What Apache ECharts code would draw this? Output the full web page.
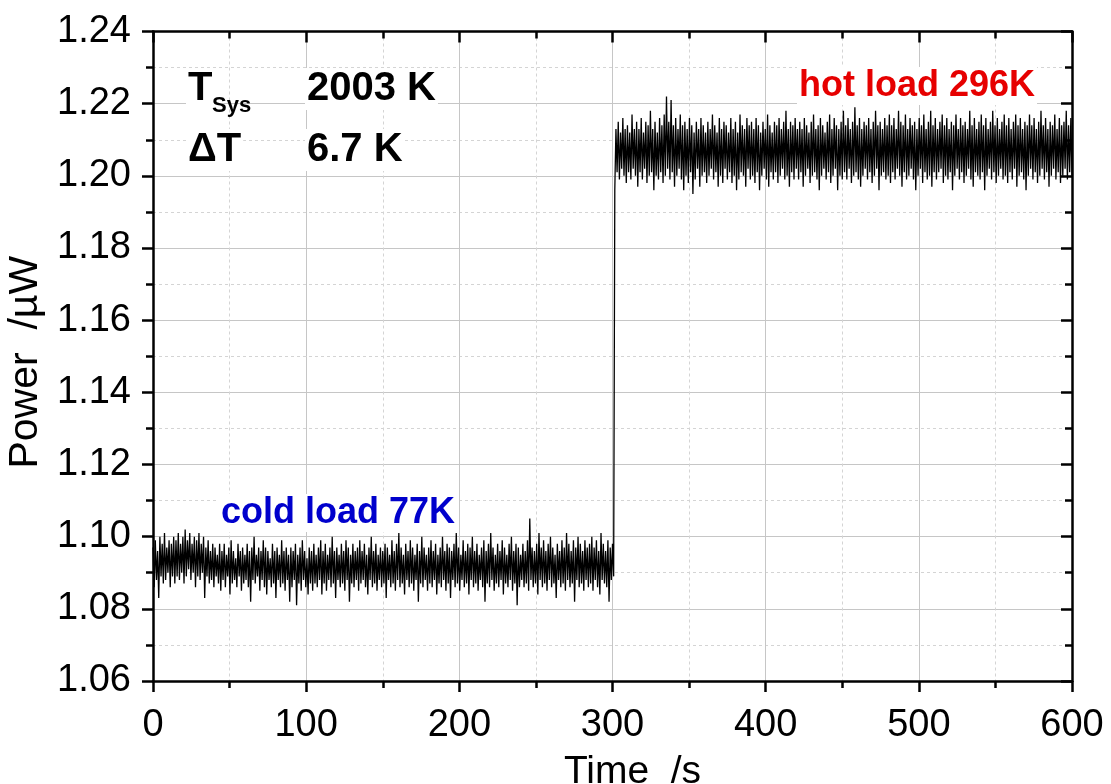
<!DOCTYPE html>
<html>
<head>
<meta charset="utf-8">
<script src="https://cdn.jsdelivr.net/npm/echarts@6/dist/echarts.min.js"></script>
<style>
  html, body { margin: 0; padding: 0; background: #fff; }
  #chart { width: 1111px; height: 784px; }
</style>
</head>
<body>
<div id="chart"></div>
<script>
// ---- axis settings / tick labels ----
const xMin = 0, xMax = 600, xInterval = 100;
const yMin = 1.06, yMax = 1.24, yInterval = 0.02;
const xTitle = 'Time  /s';
const yTitle = 'Power  /\u00b5W';

// ---- sampling grid (s) ----
const sampleStep = 0.75;
const coldStartTime = 0;
const hotStartTime = 301.5;

// ---- cold load segment: power /µW, one value per sample from t = 0 ----
const coldPower = [
1.097,1.086,1.099,1.088,1.096,1.083,1.100,1.089,1.098,1.087,1.101,1.088,1.097,1.090,1.099,1.086,1.098,1.089,1.100,1.087,
1.099,1.089,1.101,1.088,1.098,1.090,1.100,1.087,1.102,1.089,1.099,1.091,1.101,1.088,1.098,1.090,1.100,1.086,1.099,1.089,
1.101,1.088,1.098,1.090,1.100,1.083,1.097,1.089,1.099,1.087,1.096,1.088,1.098,1.086,1.097,1.089,1.095,1.087,1.098,1.085,
1.096,1.088,1.098,1.086,1.095,1.089,1.097,1.084,1.099,1.087,1.096,1.088,1.094,1.086,1.098,1.089,1.096,1.085,1.097,1.087,
1.095,1.088,1.098,1.086,1.096,1.082,1.097,1.088,1.100,1.087,1.095,1.089,1.097,1.085,1.096,1.088,1.099,1.086,1.097,1.084,
1.096,1.088,1.094,1.086,1.098,1.087,1.096,1.083,1.097,1.088,1.095,1.086,1.099,1.087,1.096,1.085,1.097,1.088,1.095,1.082,
1.097,1.086,1.096,1.088,1.098,1.081,1.095,1.087,1.097,1.085,1.099,1.088,1.096,1.086,1.094,1.084,1.097,1.087,1.096,1.085,
1.098,1.087,1.095,1.086,1.097,1.088,1.099,1.084,1.096,1.087,1.098,1.085,1.095,1.088,1.097,1.086,1.100,1.087,1.096,1.083,
1.097,1.088,1.095,1.086,1.098,1.087,1.096,1.085,1.099,1.088,1.097,1.082,1.095,1.087,1.098,1.086,1.096,1.088,1.097,1.085,
1.099,1.087,1.096,1.088,1.098,1.086,1.095,1.084,1.097,1.088,1.100,1.086,1.096,1.087,1.098,1.085,1.095,1.088,1.097,1.086,
1.096,1.087,1.098,1.083,1.097,1.088,1.095,1.086,1.099,1.087,1.096,1.085,1.098,1.088,1.101,1.086,1.097,1.087,1.095,1.084,
1.098,1.088,1.096,1.086,1.099,1.087,1.097,1.085,1.095,1.088,1.098,1.082,1.096,1.087,1.100,1.086,1.097,1.088,1.095,1.085,
1.097,1.087,1.099,1.086,1.096,1.088,1.098,1.084,1.095,1.087,1.097,1.086,1.100,1.088,1.096,1.085,1.098,1.087,1.097,1.083,
1.096,1.088,1.098,1.086,1.101,1.087,1.097,1.085,1.095,1.088,1.099,1.086,1.096,1.087,1.098,1.084,1.097,1.088,1.100,1.086,
1.096,1.087,1.098,1.085,1.095,1.088,1.097,1.086,1.099,1.082,1.096,1.087,1.098,1.086,1.101,1.088,1.097,1.085,1.095,1.087,
1.098,1.086,1.096,1.088,1.099,1.084,1.097,1.087,1.095,1.086,1.098,1.088,1.100,1.085,1.096,1.087,1.098,1.081,1.097,1.086,
1.095,1.088,1.098,1.086,1.096,1.087,1.099,1.085,1.105,1.088,1.097,1.086,1.096,1.087,1.098,1.084,1.101,1.088,1.097,1.086,
1.099,1.087,1.096,1.085,1.098,1.088,1.100,1.086,1.097,1.087,1.095,1.083,1.098,1.088,1.096,1.086,1.099,1.087,1.097,1.085,
1.101,1.088,1.098,1.086,1.096,1.087,1.099,1.082,1.097,1.088,1.100,1.086,1.098,1.087,1.096,1.085,1.099,1.088,1.097,1.086,
1.098,1.087,1.100,1.085,1.097,1.088,1.099,1.086,1.096,1.084,1.101,1.088,1.098,1.087,1.096,1.086,1.099,1.082,1.097,1.088,
1.098,1.089
];

// ---- hot load segment: power /µW, one value per sample from t = 301.5 ----
const hotPower = [
1.196,1.213,1.201,1.215,1.199,1.212,1.202,1.216,1.200,1.213,1.198,1.214,1.201,1.212,1.199,1.217,1.202,1.213,1.200,1.215,
1.197,1.213,1.201,1.216,1.199,1.212,1.202,1.215,1.198,1.214,1.200,1.218,1.201,1.213,1.196,1.215,1.200,1.212,1.199,1.216,
1.201,1.214,1.198,1.217,1.200,1.222,1.202,1.215,1.199,1.221,1.201,1.214,1.197,1.216,1.200,1.213,1.202,1.217,1.199,1.214,
1.196,1.215,1.200,1.213,1.198,1.216,1.201,1.214,1.195,1.212,1.199,1.215,1.202,1.213,1.197,1.216,1.200,1.214,1.201,1.212,
1.198,1.215,1.200,1.213,1.202,1.217,1.199,1.214,1.201,1.212,1.197,1.216,1.200,1.213,1.198,1.215,1.202,1.214,1.199,1.212,
1.201,1.216,1.198,1.213,1.200,1.215,1.196,1.212,1.199,1.217,1.201,1.214,1.200,1.213,1.197,1.216,1.202,1.214,1.199,1.215,
1.200,1.213,1.198,1.216,1.201,1.214,1.196,1.212,1.200,1.215,1.202,1.213,1.199,1.217,1.197,1.214,1.201,1.212,1.199,1.215,
1.201,1.214,1.198,1.216,1.200,1.213,1.202,1.215,1.199,1.218,1.200,1.213,1.197,1.215,1.201,1.214,1.199,1.216,1.202,1.213,
1.199,1.215,1.201,1.213,1.197,1.216,1.200,1.214,1.202,1.212,1.198,1.215,1.200,1.217,1.201,1.213,1.199,1.214,1.196,1.216,
1.200,1.214,1.202,1.212,1.199,1.215,1.201,1.217,1.198,1.213,1.200,1.216,1.202,1.214,1.196,1.213,1.200,1.215,1.199,1.218,
1.201,1.214,1.199,1.216,1.202,1.213,1.198,1.215,1.200,1.219,1.201,1.214,1.199,1.216,1.197,1.213,1.200,1.215,1.202,1.214,
1.199,1.216,1.201,1.213,1.198,1.215,1.200,1.218,1.202,1.214,1.196,1.215,1.200,1.213,1.201,1.216,1.199,1.214,1.200,1.217,
1.198,1.214,1.201,1.216,1.199,1.213,1.202,1.218,1.200,1.215,1.197,1.214,1.201,1.217,1.199,1.213,1.200,1.216,1.202,1.214,
1.199,1.215,1.196,1.213,1.200,1.216,1.202,1.214,1.198,1.217,1.201,1.213,1.199,1.215,1.200,1.218,1.197,1.214,1.201,1.216,
1.199,1.213,1.201,1.215,1.202,1.217,1.198,1.214,1.200,1.216,1.199,1.213,1.201,1.215,1.196,1.214,1.200,1.217,1.202,1.213,
1.199,1.216,1.201,1.214,1.198,1.215,1.200,1.213,1.202,1.218,1.199,1.214,1.197,1.216,1.201,1.213,1.200,1.215,1.199,1.217,
1.201,1.214,1.196,1.216,1.200,1.213,1.202,1.215,1.199,1.218,1.201,1.214,1.198,1.216,1.200,1.213,1.202,1.215,1.199,1.217,
1.200,1.214,1.198,1.216,1.201,1.213,1.199,1.215,1.202,1.217,1.197,1.214,1.200,1.216,1.201,1.213,1.199,1.215,1.196,1.214,
1.200,1.217,1.202,1.214,1.199,1.216,1.201,1.213,1.198,1.215,1.200,1.218,1.202,1.214,1.199,1.216,1.201,1.213,1.197,1.215,
1.200,1.214,1.202,1.217,1.199,1.213,1.201,1.216,1.198,1.214,1.200,1.215,1.202,1.218,1.199,1.214,1.201,1.216,1.200
];

// ---- annotation texts ----
const labelTsysMain = 'T';
const labelTsysSub = 'Sys';
const labelTsysValue = '2003 K';
const labelDeltaT = '\u0394T';
const labelDeltaTValue = '6.7 K';
const labelHot = 'hot load 296K';
const labelCold = 'cold load 77K';

// build [time, power] pairs
const seriesData = [];
coldPower.forEach((v, i) => seriesData.push([coldStartTime + i * sampleStep, v]));
hotPower.forEach((v, i) => seriesData.push([hotStartTime + i * sampleStep, v]));

const FONT = 'Liberation Sans, Arial, Helvetica, sans-serif';
const AX_W = 2.5;

function mainAxisCommon() {
  return {
    axisLine: { show: true, onZero: false, lineStyle: { color: '#000', width: AX_W } },
    axisTick: { show: true, inside: false, length: 11, lineStyle: { color: '#000', width: AX_W } },
    minorTick: { show: true, splitNumber: 2, length: 7, lineStyle: { color: '#000', width: AX_W } },
    splitLine: { show: true, lineStyle: { color: '#c6c6c6', width: 1 } },
    minorSplitLine: { show: true, lineStyle: { color: '#d4d4d4', width: 1, type: [3, 3] } }
  };
}
function mirrorAxisCommon() {
  return {
    axisLine: { show: true, onZero: false, lineStyle: { color: '#000', width: AX_W } },
    axisTick: { show: true, inside: true, length: 11, lineStyle: { color: '#000', width: AX_W } },
    minorTick: { show: true, splitNumber: 2, length: 7, lineStyle: { color: '#000', width: AX_W } },
    axisLabel: { show: false },
    splitLine: { show: false },
    minorSplitLine: { show: false }
  };
}

const chart = echarts.init(document.getElementById('chart'), null, { renderer: 'canvas' });

const txt = (text, x, y, size, color, align, bg) => ({
  type: 'text', x: x, y: y, z: 100,
  style: {
    text: text, fill: color, font: 'bold ' + size + 'px ' + FONT,
    align: align || 'left', verticalAlign: 'middle',
    backgroundColor: bg ? '#fff' : undefined, padding: bg ? [1, 2] : undefined
  }
});

chart.setOption({
  animation: false,
  backgroundColor: '#fff',
  grid: { left: 153, right: 39, top: 31.5, bottom: 103, containLabel: false, outerBoundsMode: 'none' },
  xAxis: [
    Object.assign({
      type: 'value', position: 'bottom', min: xMin, max: xMax, interval: xInterval,
      name: xTitle, nameLocation: 'middle', nameGap: 72,
      nameTextStyle: { fontSize: 39, color: '#000', fontFamily: FONT, padding: [0, 0, 0, 40] },
      axisLabel: { fontSize: 38, color: '#000', fontFamily: FONT, margin: 26 }
    }, mainAxisCommon()),
    Object.assign({
      type: 'value', position: 'top', min: xMin, max: xMax, interval: xInterval
    }, mirrorAxisCommon())
  ],
  yAxis: [
    Object.assign({
      type: 'value', position: 'left', min: yMin, max: yMax, interval: yInterval,
      name: yTitle, nameLocation: 'middle', nameGap: 104, nameRotate: 90,
      nameTextStyle: { fontSize: 41, color: '#000', fontFamily: FONT, padding: [0, 12, 0, 0] },
      axisLabel: { fontSize: 38, color: '#000', fontFamily: FONT, margin: 22,
        formatter: v => v.toFixed(2) }
    }, mainAxisCommon()),
    Object.assign({
      type: 'value', position: 'right', min: yMin, max: yMax, interval: yInterval
    }, mirrorAxisCommon())
  ],
  series: [{
    type: 'line',
    xAxisIndex: 0, yAxisIndex: 0,
    data: seriesData,
    showSymbol: false,
    symbol: 'none',
    lineStyle: { color: '#000', width: 1.3 },
    emphasis: { disabled: true },
    z: 5
  }],
  graphic: [
    txt(labelTsysMain, 186, 89, 40, '#000', 'left', true),
    txt(labelTsysSub, 212, 106, 22, '#000', 'left', false),
    txt(labelTsysValue, 305, 89, 40, '#000', 'left', true),
    txt(labelDeltaT, 186, 150, 40, '#000', 'left', true),
    txt(labelDeltaTValue, 305, 150, 40, '#000', 'left', true),
    txt(labelHot, 917, 86, 36, '#e60000', 'center', true),
    txt(labelCold, 338, 513, 36, '#0000cc', 'center', true)
  ]
});
</script>
</body>
</html>
